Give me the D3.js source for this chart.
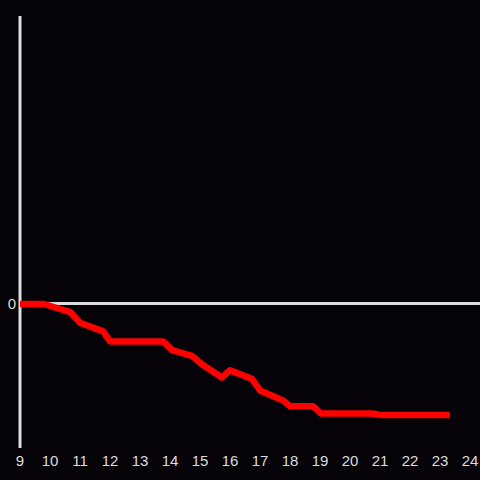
<!DOCTYPE html>
<html>
<head>
<meta charset="utf-8">
<script src="https://cdn.jsdelivr.net/npm/d3@7"></script>
<style>
  html, body { margin: 0; padding: 0; background: #050308; }
  svg { display: block; }
  .tick-label { fill: #dddddd; font-family: "Liberation Sans", Arial, sans-serif; font-size: 15px; }
</style>
</head>
<body>
<svg width="480" height="480"></svg>
<script>
// hours on x, value on y
const hours = [9, 9.8, 10.67, 11.0, 11.77, 12.0, 13.77, 14.07, 14.73, 15.07, 15.73, 16.0, 16.73, 17.0, 17.77, 18.0, 18.77, 19.03, 20.73, 21.0, 23.33];
const values = [0, 0, -0.056, -0.13, -0.19, -0.26, -0.26, -0.32, -0.36, -0.42, -0.51, -0.46, -0.52, -0.60, -0.67, -0.71, -0.71, -0.76, -0.76, -0.77, -0.77];
const xTicks = d3.range(9, 25);
const yTicks = [0];

const svg = d3.select('svg');
const width = 480, height = 480;

svg.append('rect')
  .attr('width', width)
  .attr('height', height)
  .attr('fill', '#050308');

const x = d3.scaleLinear().domain([9, 24]).range([20, 470]);
const y = d3.scaleLinear().domain([-1, 2]).range([448, 16]);

const data = hours.map((h, i) => ({ h, v: values[i] }));

// zero line
svg.append('line')
  .attr('x1', x(9)).attr('x2', width)
  .attr('y1', y(0) - 0.5).attr('y2', y(0) - 0.5)
  .attr('stroke', '#dddddd')
  .attr('stroke-width', 3);

// vertical axis
svg.append('line')
  .attr('x1', x(9)).attr('x2', x(9))
  .attr('y1', y(2)).attr('y2', y(-1))
  .attr('stroke', '#dddddd')
  .attr('stroke-width', 3);

svg.selectAll('text.x')
  .data(xTicks)
  .enter().append('text')
    .attr('class', 'tick-label x')
    .attr('x', d => x(d))
    .attr('y', 466)
    .attr('text-anchor', 'middle')
    .text(d => d);

svg.selectAll('text.y')
  .data(yTicks)
  .enter().append('text')
    .attr('class', 'tick-label y')
    .attr('x', 16)
    .attr('y', d => y(d))
    .attr('dy', '0.35em')
    .attr('text-anchor', 'end')
    .text(d => d);

const line = d3.line()
  .x(d => x(d.h))
  .y(d => y(d.v));

svg.append('path')
  .datum(data)
  .attr('d', line)
  .attr('fill', 'none')
  .attr('stroke', '#ff0000')
  .attr('stroke-width', 6.5)
  .attr('stroke-linejoin', 'round');
</script>
</body>
</html>
